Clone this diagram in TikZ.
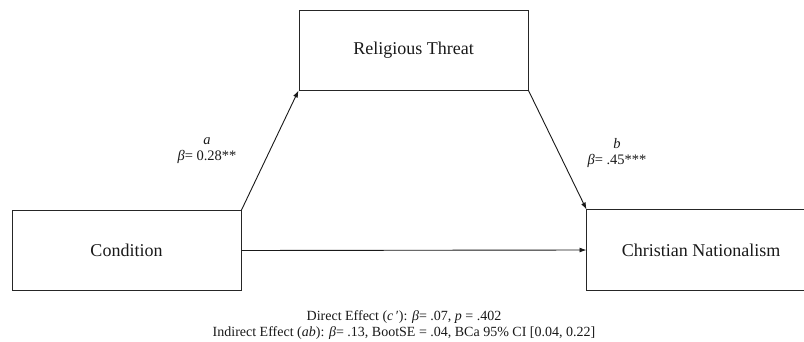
\documentclass[tikz,border=0pt]{standalone}
\usepackage{fontspec}
\setmainfont{Liberation Serif}
\usetikzlibrary{arrows.meta}
\begin{document}
\begin{tikzpicture}[x=1pt,y=-1pt,
  box/.style={draw=black!85, line width=1pt, minimum width=229pt, minimum height=80pt, inner sep=0pt, font=\fontsize{18}{21}\selectfont, text=black!90},
  openbox/.style={box, draw=none},
  edge/.style={draw=black!85, line width=1pt},
  lbl/.style={font=\fontsize{14.5}{16}\selectfont, align=center, text=black!90, inner sep=0pt},
  bottxt/.style={font=\fontsize{14}{16}\selectfont, align=center, text=black!90, inner sep=0pt},
  conn/.style={draw=black!90, line width=0.9pt, -{Latex[length=7pt,width=5pt]}}]
\useasboundingbox (0,0) rectangle (804,341);
\node[box] (rt) at (413.5,50) {Religious Threat};
\node[box] (cond) at (126.5,250.5) {Condition};
\node[openbox, minimum width=228pt] (cn) at (701,250) {Christian Nationalism};
\draw[edge] (cn.north east) -- (cn.north west) -- (cn.south west) -- (cn.south east);
\draw[conn] (cond.north east) -- (rt.south west);
\draw[conn] (rt.south east) -- (cn.north west);
\draw[conn] (cond.east) -- (cn.west);
\node[lbl] (la) at (207,151) {\textit{a}\\\textit{β}= 0.28**};
\node[lbl] (lb) at (617,153) {\textit{b}\\\textit{β}= .45***};
\node[bottxt] (bot) at (404,325) {Direct Effect (\textit{c}\,′): \textit{β}= .07, \textit{p} = .402\\Indirect Effect (\textit{ab}): \textit{β}= .13, BootSE = .04, BCa 95\% CI [0.04, 0.22]};
\end{tikzpicture}
\end{document}
